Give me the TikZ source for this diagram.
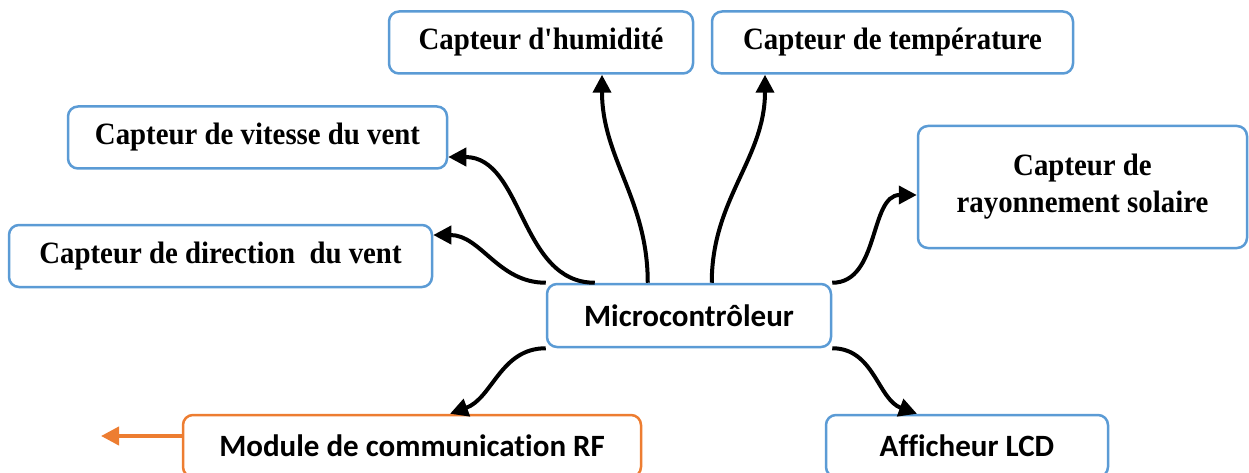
\documentclass[tikz,border=0pt]{standalone}
\usepackage{fontspec}
\setmainfont{Liberation Serif}[FakeStretch=0.93]
\newfontfamily\calibri{Carlito}[Ligatures=NoCommon]
\usetikzlibrary{arrows.meta}
\definecolor{boxblue}{HTML}{5B9BD5}
\definecolor{boxorange}{HTML}{ED7D31}

\begin{document}
\begin{tikzpicture}[x=1pt, y=-1pt, line width=2.5pt,
  main/.style = {draw=boxblue, rounded corners=10pt, inner sep=0pt, minimum height=62pt, font=\fontsize{31}{37}\selectfont\bfseries},
  mcu/.style = {main, font=\calibri\fontsize{31}{36}\selectfont\bfseries},
  link/.style = {line width=4pt, -{Triangle[length=18pt,width=18pt]}}]
\useasboundingbox (0,0) rectangle (1249,473);
\node[main, minimum width=304pt] (1) at (541,42.5) {Capteur d\textquotesingle humidité};
\node[main, minimum width=361pt] (2) at (892.5,42.5) {Capteur de température};
\node[main, minimum width=379pt] (3) at (257.5,137.5) {Capteur de vitesse du vent};
\node[main, minimum width=423pt] (4) at (220.5,256) {Capteur de direction\ \ du vent};
\node[main, minimum width=329pt, minimum height=122pt, align=center] (5) at (1082.5,187) {Capteur de\\rayonnement solaire};
\node[mcu, minimum width=284pt, minimum height=63pt] (6) at (689,315.5) {Microcontrôleur};
\node[mcu, draw=boxorange, minimum width=458pt] (7) at (412,446) {Module de communication RF};
\node[mcu, minimum width=282pt] (8) at (967,446) {Afficheur LCD};
\coordinate (9) at (101,436);
\draw[link] (6.north west) to[out=180, in=0] ([yshift=21pt]4.east);
\draw[link] ([xshift=49pt]6.north west) to[out=180, in=0] ([yshift=-19.5pt]3.east);
\draw[link] ([xshift=102pt]6.north west) to[out=90, in=-90] ([xshift=61pt]1.south);
\draw[link] ([xshift=166pt]6.north west) to[out=90, in=-90] ([xshift=-127.5pt]2.south);
\draw[link] (6.north east) to[out=0, in=180] ([yshift=-8pt]5.west);
\draw[link] (6.south west) to[out=180, in=20] ([xshift=38pt]7.north);
\draw[link] (6.south east) to[out=0, in=160] ([xshift=-50pt]8.north);
\draw[link, draw=boxorange, fill=boxorange] ([yshift=10pt]7.west) -- (9);
\end{tikzpicture}
\end{document}
